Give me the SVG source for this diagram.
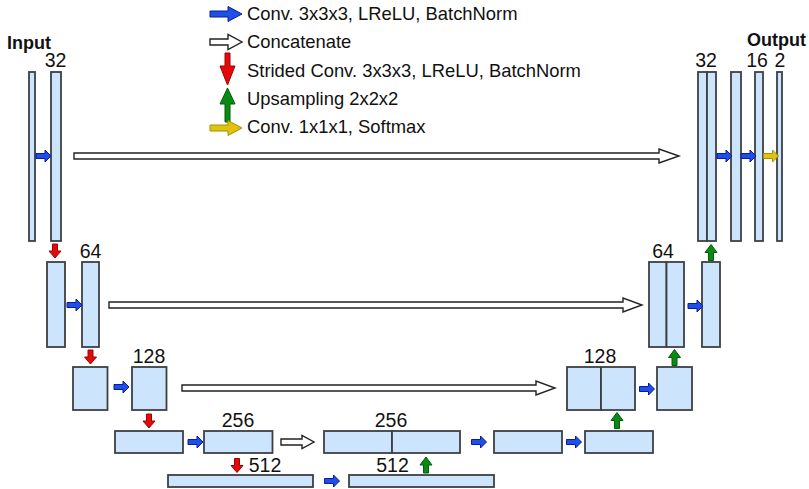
<svg xmlns="http://www.w3.org/2000/svg" xmlns:xlink="http://www.w3.org/1999/xlink" width="809" height="489" viewBox="0 0 809 489">
<style>
.box{fill:#cce4fc;stroke:#3c4044;stroke-width:1.8}
.t{font-family:"Liberation Sans",Arial,sans-serif;font-size:18.4px;fill:#111}
.b{font-weight:bold;font-size:18px}
.num{text-anchor:middle;font-size:19.5px}
.blue{fill:#1e4fe6;stroke:#0a1a9c;stroke-width:1}
.red{fill:#e20a0a;stroke:#a00000;stroke-width:1}
.green{fill:#0a8a14;stroke:#055a0a;stroke-width:1}
.yellow{fill:#e2c210;stroke:#a88e00;stroke-width:1}
.white{fill:#fff;stroke:#222;stroke-width:1.4}
</style>
<defs>
<polygon id="sR" points="0,-2.5 9,-2.5 9,-6 15,0 9,6 9,2.5 0,2.5"/>
<polygon id="sD" points="-2.5,0 2.5,0 2.5,7 6,7 0,14 -6,7 -2.5,7"/>
<polygon id="sU" points="-2.5,0 2.5,0 2.5,-8 6,-8 0,-16 -6,-8 -2.5,-8"/>
<polygon id="lR" points="0,-3 18,-3 18,-7.5 32,0 18,7.5 18,3 0,3"/>
<polygon id="lD" points="-2.5,0 2.5,0 2.5,13 7.5,13 0,32 -7.5,13 -2.5,13"/>
<polygon id="lU" points="-2.5,0 2.5,0 2.5,-18 7.5,-18 0,-34 -7.5,-18 -2.5,-18"/>
</defs>

<g id="legend">
<use xlink:href="#lR" href="#lR" class="blue" x="210" y="14"/>
<text class="t" x="247" y="20">Conv. 3x3x3, LReLU, BatchNorm</text>
<use xlink:href="#lR" href="#lR" class="white" x="210" y="42"/>
<text class="t" x="247" y="48">Concatenate</text>
<use xlink:href="#lD" href="#lD" class="red" x="227.5" y="53"/>
<text class="t" x="247" y="77">Strided Conv. 3x3x3, LReLU, BatchNorm</text>
<use xlink:href="#lU" href="#lU" class="green" x="227.5" y="122"/>
<text class="t" x="247" y="105">Upsampling 2x2x2</text>
<use xlink:href="#lR" href="#lR" class="yellow" x="210" y="128"/>
<text class="t" x="247" y="133">Conv. 1x1x1, Softmax</text>
</g>

<g id="level1-left">
<text class="t b" x="7" y="49">Input</text>
<rect id="input" class="box" x="29" y="72" width="6" height="169"/>
<text class="t num" x="55.5" y="67">32</text>
<rect id="enc1" class="box" x="51" y="72" width="10" height="169"/>
</g>
<g id="level1-right">
<text class="t num" x="706" y="66.5">32</text>
<rect id="dec1a" class="box" x="698" y="72" width="9" height="169"/>
<rect id="dec1b" class="box" x="707" y="72" width="9" height="169"/>
<rect id="dec1c" class="box" x="731" y="72" width="10" height="169"/>
<text class="t num" x="757" y="66.5">16</text>
<rect id="dec1d" class="box" x="755" y="72" width="8" height="169"/>
<text class="t num" x="780" y="66.5">2</text>
<rect id="output" class="box" x="777" y="72" width="5" height="169"/>
<text class="t b" x="747" y="45.5">Output</text>
</g>

<g id="level2">
<rect id="enc2a" class="box" x="47" y="262" width="18" height="85"/>
<text class="t num" x="90.5" y="258">64</text>
<rect id="enc2b" class="box" x="82" y="262" width="17" height="85"/>
<text class="t num" x="663" y="258">64</text>
<rect id="dec2a" class="box" x="649" y="262" width="17.5" height="85"/>
<rect id="dec2b" class="box" x="666.5" y="262" width="17.5" height="85"/>
<rect id="dec2c" class="box" x="702" y="262" width="18" height="85"/>
</g>

<g id="level3">
<rect id="enc3a" class="box" x="73" y="367" width="34.5" height="43"/>
<text class="t num" x="149" y="363">128</text>
<rect id="enc3b" class="box" x="132" y="367" width="34.5" height="43"/>
<text class="t num" x="600" y="363">128</text>
<rect id="dec3a" class="box" x="567" y="367" width="34" height="43"/>
<rect id="dec3b" class="box" x="601" y="367" width="34" height="43"/>
<rect id="dec3c" class="box" x="657" y="367" width="35" height="43"/>
</g>

<g id="level4">
<rect id="enc4a" class="box" x="115" y="431" width="68" height="22"/>
<text class="t num" x="238" y="427">256</text>
<rect id="enc4b" class="box" x="204" y="431" width="68.5" height="22"/>
<text class="t num" x="391" y="427">256</text>
<rect id="dec4a" class="box" x="324" y="431" width="68" height="22"/>
<rect id="dec4b" class="box" x="392" y="431" width="68" height="22"/>
<rect id="dec4c" class="box" x="494" y="431" width="68" height="22"/>
<rect id="dec4d" class="box" x="585" y="431" width="68" height="22"/>
</g>

<g id="level5">
<text class="t num" x="265" y="472">512</text>
<rect id="bott1" class="box" x="168" y="475" width="145" height="12"/>
<text class="t num" x="392.5" y="472">512</text>
<rect id="bott2" class="box" x="349" y="475" width="145" height="12"/>
</g>

<g id="connectors">
<polygon class="white" points="74,153 659,153 659,149 679,156 659,163 659,159 74,159"/>
<polygon class="white" points="109,302 623,302 623,298 642,305 623,312 623,308 109,308"/>
<polygon class="white" points="182,385 536,385 536,381 555,388 536,395 536,391 182,391"/>
<polygon class="white" points="281,439 302,439 302,435.5 314,442 302,448.5 302,445 281,445"/>

<use xlink:href="#sR" href="#sR" class="blue" x="36" y="156"/>
<use xlink:href="#sR" href="#sR" class="blue" x="67" y="305"/>
<use xlink:href="#sR" href="#sR" class="blue" x="688" y="306"/>
<use xlink:href="#sR" href="#sR" class="blue" x="114" y="387"/>
<use xlink:href="#sR" href="#sR" class="blue" x="639.5" y="389"/>
<use xlink:href="#sR" href="#sR" class="blue" x="188" y="442"/>
<use xlink:href="#sR" href="#sR" class="blue" x="471.5" y="442"/>
<use xlink:href="#sR" href="#sR" class="blue" x="566.5" y="442"/>
<use xlink:href="#sR" href="#sR" class="blue" x="324.5" y="481"/>
<use xlink:href="#sR" href="#sR" class="blue" x="717" y="156"/>
<use xlink:href="#sR" href="#sR" class="blue" x="741" y="156"/>
<use xlink:href="#sR" href="#sR" class="yellow" x="763.5" y="156"/>

<use xlink:href="#sD" href="#sD" class="red" x="55" y="244"/>
<use xlink:href="#sD" href="#sD" class="red" x="90.5" y="350"/>
<use xlink:href="#sD" href="#sD" class="red" x="149" y="414"/>
<use xlink:href="#sD" href="#sD" class="red" x="237" y="458.5"/>

<use xlink:href="#sU" href="#sU" class="green" x="426" y="473"/>
<use xlink:href="#sU" href="#sU" class="green" x="617" y="428.5"/>
<use xlink:href="#sU" href="#sU" class="green" x="674.5" y="365.5"/>
<use xlink:href="#sU" href="#sU" class="green" x="711" y="260.5"/>
</g>
</svg>
